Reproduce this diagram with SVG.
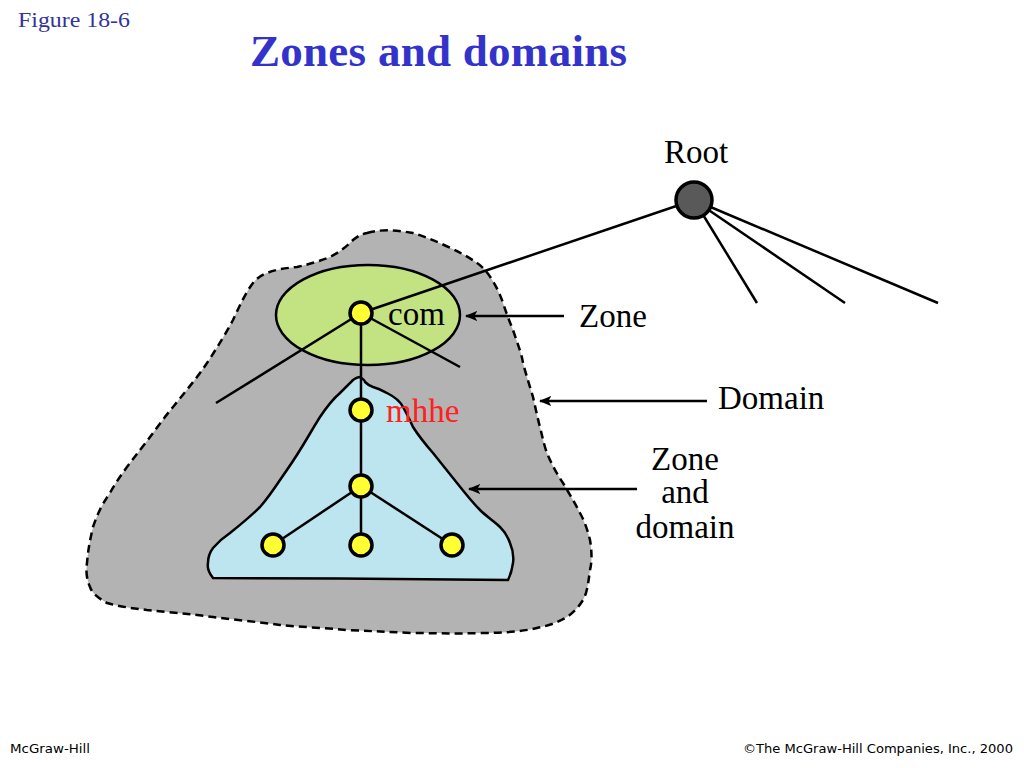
<svg xmlns="http://www.w3.org/2000/svg" width="1024" height="768" viewBox="0 0 1024 768">
<defs>
<style>
.serif{font-family:"Liberation Serif","Times New Roman",serif;}
.lbl{font-family:"Liberation Serif","Times New Roman",serif;font-size:33px;fill:#000;}
.foot{font-family:"Liberation Sans Narrow","DejaVu Sans Condensed","Liberation Sans",sans-serif;font-size:13px;fill:#000;}
.edge{stroke:#000;stroke-width:2.5;fill:none;}
.arrow{stroke:#000;stroke-width:2.5;fill:none;marker-end:url(#ah);}
.node{fill:#ffff33;stroke:#000;stroke-width:3.5;}
</style>
<marker id="ah" viewBox="0 0 12 10" refX="11" refY="5" markerWidth="5" markerHeight="4.5" orient="auto" markerUnits="strokeWidth">
<path d="M0,0 L12,5 L0,10 L3,5 Z" fill="#000"/>
</marker>
</defs>
<rect width="1024" height="768" fill="#fff"/>

<text x="18" y="27" class="serif" font-size="22" fill="#333399" textLength="112" lengthAdjust="spacingAndGlyphs">Figure  18-6</text>
<text x="250" y="66" class="serif" font-size="45" font-weight="bold" fill="#3333cc" textLength="377">Zones and domains</text>

<g id="domain">
<path d="M367,233 C385,228 400,231 413,233 C430,238 462,252 477,263 C488,270 498,288 503,303 C508,318 511,325 513,330 C518,345 522,355 523,363 C527,378 531,390 533,397 C536,410 538,420 540,427 C543,440 545,448 547,453 C552,465 557,474 563,483 C570,495 575,503 580,513 C585,522 588,532 590,540 C592,552 592,562 590,570 C588,585 587,593 583,600 C578,608 573,613 567,617 C557,623 547,626 537,628 C520,632 500,633 480,633 C455,634 435,633 413,633 C390,632 370,631 347,630 C325,628 300,627 280,625 C260,622 235,620 213,617 C190,614 168,612 147,610 C130,608 117,606 107,603 C98,598 92,593 90,587 C86,578 86,570 87,563 C88,550 90,540 93,527 C98,512 103,503 110,493 C118,478 130,463 140,450 C152,435 162,420 173,407 C185,392 197,378 207,363 C217,348 226,333 233,320 C240,305 246,292 253,283 C258,277 262,275 267,273 C277,269 287,268 297,267 C310,264 320,261 330,257 C340,252 347,246 353,240 C358,236 362,234 367,233 Z" fill="#b3b3b3" stroke="#000" stroke-width="2.5" stroke-dasharray="8,5"/>
</g>

<g id="zone-com">
<ellipse cx="368" cy="315" rx="92" ry="50" fill="#c3e281" stroke="#000" stroke-width="2.5"/>
</g>

<g id="zone-mhhe">
<path d="M360,377 C363,379 365,381 365,382 C368,385 370,386 373,387 C380,389 383,391 387,393 C395,397 400,401 403,407 C407,414 410,420 413,427 C420,438 426,445 433,453 C441,463 449,473 457,483 C465,493 472,502 480,510 C487,517 494,521 500,527 C505,532 508,537 510,543 C513,550 514,556 513,563 C512,570 510,576 508,580 C450,579 300,578 213,578 C209,573 207,568 208,563 C208,556 210,552 213,548 C219,541 224,537 230,533 C240,525 251,516 260,507 C267,499 274,489 280,480 C287,470 294,460 300,450 C307,439 313,428 320,417 C326,408 333,399 340,393 C345,388 349,384 353,380 C356,378 358,377 360,377 Z" fill="#bde5f0" stroke="#000" stroke-width="2.5"/>
</g>

<g id="connectors">
<line class="edge" x1="694" y1="200" x2="361" y2="313"/>
<line class="edge" x1="694" y1="200" x2="757" y2="303"/>
<line class="edge" x1="694" y1="200" x2="845" y2="303"/>
<line class="edge" x1="694" y1="200" x2="938" y2="303"/>
<line class="edge" x1="361" y1="313" x2="216" y2="403"/>
<line class="edge" x1="361" y1="313" x2="460" y2="367"/>
<line class="edge" x1="361" y1="313" x2="361" y2="545"/>
<line class="edge" x1="361" y1="486" x2="273" y2="545"/>
<line class="edge" x1="361" y1="486" x2="452" y2="545"/>
<line class="arrow" x1="564" y1="316" x2="466" y2="316"/>
<line class="arrow" x1="707" y1="401" x2="540" y2="401"/>
<line class="arrow" x1="637" y1="489" x2="469" y2="489"/>
</g>

<g id="root">
<circle cx="694" cy="200" r="18" fill="#595959" stroke="#000" stroke-width="3.5"/>
<text x="696" y="163" class="lbl" text-anchor="middle">Root</text>
</g>
<g id="com">
<circle class="node" cx="361" cy="313" r="11"/>
<text x="388" y="325" class="lbl">com</text>
</g>
<g id="mhhe">
<circle class="node" cx="361" cy="410" r="11"/>
<text x="386" y="422" class="lbl" style="fill:#ff2020">mhhe</text>
</g>
<g id="n-mid">
<circle class="node" cx="361" cy="486" r="11"/>
</g>
<g id="n-left">
<circle class="node" cx="273" cy="545" r="11"/>
</g>
<g id="n-center">
<circle class="node" cx="361" cy="545" r="11"/>
</g>
<g id="n-right">
<circle class="node" cx="452" cy="545" r="11"/>
</g>

<g id="labels">
<text x="579" y="327" class="lbl">Zone</text>
<text x="718" y="409" class="lbl">Domain</text>
<text x="685" y="470" class="lbl" text-anchor="middle">Zone</text>
<text x="685" y="503" class="lbl" text-anchor="middle">and</text>
<text x="685" y="538" class="lbl" text-anchor="middle">domain</text>
</g>

<text x="10" y="753" class="foot" textLength="80" lengthAdjust="spacingAndGlyphs">McGraw-Hill</text>
<text x="1013" y="753" class="foot" text-anchor="end" textLength="270" lengthAdjust="spacingAndGlyphs">©The McGraw-Hill Companies, Inc., 2000</text>
</svg>
